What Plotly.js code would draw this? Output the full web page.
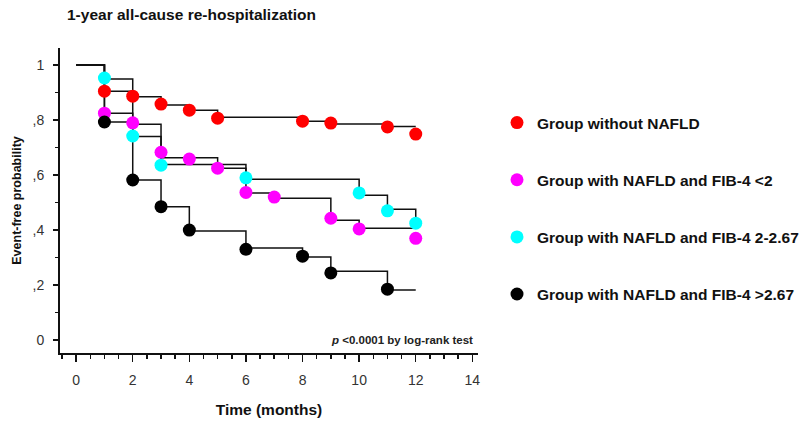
<!DOCTYPE html>
<html>
<head>
<meta charset="utf-8">
<script src="https://cdn.plot.ly/plotly-3.0.1.min.js"></script>
<style>html,body{margin:0;padding:0;background:#fff;}#chart{width:802px;height:427px;}</style>
</head>
<body>
<div id="chart"></div>
<script>
// Group names
const groupNames = [
  'Group without NAFLD',
  'Group with NAFLD and FIB-4 <2',
  'Group with NAFLD and FIB-4 2-2.67',
  'Group with NAFLD and FIB-4 >2.67'
];
const groupColors = ['#ff0000', '#ff00ff', '#00ffff', '#000000'];

// Step curves (Kaplan-Meier survival lines)
const redStepX = [0, 1, 2, 3, 4, 5, 8, 9, 11, 12];
const redStepY = [1, 0.905, 0.885, 0.855, 0.836, 0.81, 0.796, 0.786, 0.777, 0.777];
const magStepX = [0, 1, 2, 3, 5, 6, 7, 9, 10, 12];
const magStepY = [1, 0.825, 0.785, 0.663, 0.625, 0.535, 0.516, 0.436, 0.407, 0.407];
const cyanStepX = [0, 1, 2, 3, 6, 10, 11, 12];
const cyanStepY = [1, 0.949, 0.74, 0.638, 0.585, 0.527, 0.476, 0.425];
const blackStepX = [0, 1, 2, 3, 4, 6, 8, 9, 11, 12];
const blackStepY = [1, 0.793, 0.582, 0.485, 0.397, 0.335, 0.302, 0.25, 0.182, 0.182];

// Event markers
const redMarkX = [1, 2, 3, 4, 5, 8, 9, 11, 12];
const redMarkY = [0.905, 0.887, 0.858, 0.836, 0.807, 0.796, 0.789, 0.775, 0.749];
const magMarkX = [1, 2, 3, 4, 5, 6, 7, 9, 10, 12];
const magMarkY = [0.825, 0.79, 0.683, 0.658, 0.625, 0.537, 0.52, 0.443, 0.404, 0.37];
const cyanMarkX = [1, 2, 3, 6, 10, 11, 12];
const cyanMarkY = [0.953, 0.742, 0.636, 0.59, 0.535, 0.47, 0.425];
const blackMarkX = [1, 2, 3, 4, 6, 8, 9, 11];
const blackMarkY = [0.793, 0.582, 0.485, 0.4, 0.33, 0.305, 0.244, 0.185];

// Axis ticks
const xTickVals = [0, 2, 4, 6, 8, 10, 12, 14];
const yTickVals = [0, 0.2, 0.4, 0.6, 0.8, 1];
const yTickText = ['0', ',2', ',4', ',6', ',8', '1'];

const steps = [[redStepX, redStepY], [magStepX, magStepY], [cyanStepX, cyanStepY], [blackStepX, blackStepY]];
const marks = [[redMarkX, redMarkY], [magMarkX, magMarkY], [cyanMarkX, cyanMarkY], [blackMarkX, blackMarkY]];

const traces = [];
steps.forEach(function (s) {
  traces.push({
    x: s[0], y: s[1], type: 'scatter', mode: 'lines',
    line: {shape: 'hv', color: '#111', width: 1.5},
    showlegend: false, hoverinfo: 'skip'
  });
});
marks.forEach(function (m, i) {
  traces.push({
    x: m[0], y: m[1], type: 'scatter', mode: 'markers',
    name: '<b>' + groupNames[i].replace('<', '&lt;').replace('>', '&gt;') + '</b>',
    legendgroup: 'g' + i,
    marker: {color: groupColors[i], size: 13, line: {width: 0}}
  });
});

const font = 'Arial, "Liberation Sans", sans-serif';
const layout = {
  width: 802, height: 427,
  paper_bgcolor: '#fff', plot_bgcolor: '#fff',
  margin: {l: 60, r: 324, t: 48, b: 74},
  font: {family: font, color: '#222'},
  title: {
    text: '<b>1-year all-cause re-hospitalization</b>',
    font: {family: font, size: 15.5, color: '#111'},
    xref: 'container', yref: 'container',
    x: 67 / 802, xanchor: 'left', y: 1 - 15 / 427, yanchor: 'middle'
  },
  xaxis: {
    range: [-0.57, 14.2], tickvals: xTickVals,
    showgrid: false, zeroline: false,
    showline: true, linecolor: '#111', linewidth: 2,
    ticks: 'outside', ticklen: 7, tickwidth: 1.5, tickcolor: '#111',
    minor: {dtick: 0.5, tick0: 0, ticks: 'outside', ticklen: 4, tickwidth: 1.5, tickcolor: '#111'},
    tickfont: {family: font, size: 14, color: '#333'},
    ticklabelstandoff: 6,
    title: {text: '<b>Time (months)</b>', font: {family: font, size: 15.5, color: '#111'}, standoff: 17}
  },
  yaxis: {
    range: [-0.047, 1.062], tickvals: yTickVals, ticktext: yTickText,
    showgrid: false, zeroline: false,
    showline: true, linecolor: '#111', linewidth: 2,
    ticks: 'outside', ticklen: 5, tickwidth: 1.5, tickcolor: '#111',
    minor: {dtick: 0.1, tick0: 0, ticks: 'outside', ticklen: 3, tickwidth: 1.5, tickcolor: '#111'},
    tickfont: {family: font, size: 14, color: '#333'},
    ticklabelstandoff: 6,
    title: {text: '<b>Event-free probability</b>', font: {family: font, size: 12.5, color: '#111'}, standoff: 8}
  },
  legend: {
    xref: 'container', yref: 'container',
    x: 497 / 802, xanchor: 'left', y: 1 - 106 / 427, yanchor: 'top',
    font: {family: font, size: 15.5, color: '#111'},
    tracegroupgap: 34, bgcolor: 'rgba(0,0,0,0)',
    itemclick: false
  },
  annotations: [{
    text: '<b><i>p</i> &lt;0.0001 by log-rank test</b>',
    xref: 'x', yref: 'y', x: 14.1, y: 0, xanchor: 'right', yanchor: 'middle',
    showarrow: false, font: {family: font, size: 11.5, color: '#222'}
  }]
};

Plotly.newPlot('chart', traces, layout, {displayModeBar: false, staticPlot: true});
</script>
</body>
</html>
